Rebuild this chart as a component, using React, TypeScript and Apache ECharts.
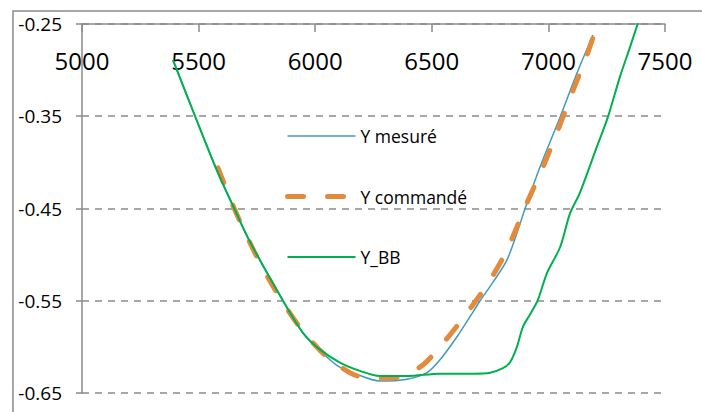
import React, { useEffect, useRef } from "react";
import * as echarts from "echarts";

const xTicks = [5000, 5500, 6000, 6500, 7000, 7500];
const yTicks = [-0.65, -0.55, -0.45, -0.35, -0.25];

const mesureX = [5390, 5485, 5583, 5652, 5716, 5862, 5948, 6021, 6093, 6171, 6278, 6394, 6479, 6535, 6608, 6677, 6707, 6762, 6822, 6870, 6900, 6964, 7050, 7123, 7191];
const mesureY = [-0.289, -0.35, -0.4115, -0.4495, -0.484, -0.55, -0.585, -0.604, -0.62, -0.629, -0.637, -0.635, -0.628, -0.614, -0.589, -0.562, -0.55, -0.53, -0.506, -0.473, -0.45, -0.405, -0.351, -0.303, -0.262];

const commandeX = [5583, 5652, 5750, 5828, 5926, 6042, 6149, 6226, 6321, 6449, 6548, 6651, 6750, 6822, 6908, 6977, 7041, 7101, 7165, 7191];
const commandeY = [-0.406, -0.4495, -0.5026, -0.538, -0.576, -0.609, -0.628, -0.634, -0.634, -0.622, -0.596, -0.563, -0.5275, -0.495, -0.444, -0.405, -0.365, -0.325, -0.284, -0.265];

const bbX = [5390, 5485, 5583, 5652, 5716, 5862, 5948, 6021, 6106, 6192, 6278, 6394, 6535, 6677, 6750, 6805, 6835, 6865, 6891, 6921, 6955, 6994, 7050, 7093, 7135, 7208, 7255, 7307, 7350, 7384];
const bbY = [-0.289, -0.35, -0.4115, -0.4495, -0.484, -0.55, -0.585, -0.603, -0.617, -0.626, -0.6316, -0.6316, -0.629, -0.629, -0.628, -0.623, -0.617, -0.6, -0.578, -0.565, -0.549, -0.52, -0.492, -0.455, -0.433, -0.383, -0.351, -0.307, -0.275, -0.249];

const seriesNames = ["Y mesuré", "Y commandé", "Y_BB"];

const zip = (xs: number[], ys: number[]) => xs.map((x, i) => [x, ys[i]]);

const FONT = "Open Sans";
const GRAY = "#8a8a8a";

export default function App() {
  const ref = useRef<HTMLDivElement>(null);
  useEffect(() => {
    if (!ref.current) return;
    const chart = echarts.init(ref.current, null, { renderer: "svg" });
    chart.setOption({
      animation: false,
      backgroundColor: "#ffffff",
      textStyle: { fontFamily: FONT },
      grid: { left: 82, top: 24, right: 37, bottom: 19, containLabel: false },
      graphic: [
        {
          type: "rect",
          shape: { x: 13, y: 11, width: 720, height: 420 },
          style: { fill: "none", stroke: GRAY, lineWidth: 1.5 },
          z: -1,
        },
      ],
      legend: {
        orient: "vertical",
        left: 280,
        top: 121,
        itemWidth: 68,
        itemHeight: 20,
        itemGap: 40.5,
        data: seriesNames,
        itemStyle: { opacity: 0 },
        lineStyle: { width: "inherit", type: "inherit", cap: "inherit" },
        textStyle: { fontFamily: FONT, fontSize: 17.5, color: "#000", lineHeight: 20 },
      },
      xAxis: {
        type: "value",
        position: "top",
        min: xTicks[0],
        max: xTicks[xTicks.length - 1],
        interval: 500,
        axisLine: { show: true, lineStyle: { color: GRAY, width: 1.5 } },
        axisTick: { show: true, inside: true, length: 8, lineStyle: { color: GRAY, width: 1.5 } },
        axisLabel: {
          inside: true,
          margin: 24,
          fontSize: 24,
          color: "#000",
          fontFamily: FONT,
          formatter: (v: number) => (xTicks.includes(v) ? String(v) : ""),
        },
        splitLine: { show: false },
      },
      yAxis: {
        type: "value",
        min: yTicks[0],
        max: yTicks[yTicks.length - 1],
        interval: 0.1,
        axisLine: { show: true, lineStyle: { color: GRAY, width: 1.5 } },
        axisTick: { show: true, length: 6, lineStyle: { color: GRAY, width: 1.5 } },
        axisLabel: {
          margin: 20,
          fontSize: 19,
          color: "#000",
          fontFamily: FONT,
          formatter: (v: number) => v.toFixed(2),
        },
        splitLine: { show: true, lineStyle: { color: GRAY, width: 1.5, type: [7, 6] } },
      },
      series: [
        {
          name: seriesNames[0],
          type: "line",
          data: zip(mesureX, mesureY),
          symbol: "none",
          smooth: 0.3,
          lineStyle: { color: "#4299B9", width: 1.5 },
          itemStyle: { color: "#4299B9" },
          z: 2,
        },
        {
          name: seriesNames[1],
          type: "line",
          data: zip(commandeX, commandeY),
          symbol: "none",
          smooth: 0.3,
          lineStyle: { color: "#E38A3C", width: 5, type: [16, 24], cap: "round" },
          itemStyle: { color: "#E38A3C" },
          z: 3,
        },
        {
          name: seriesNames[2],
          type: "line",
          data: zip(bbX, bbY),
          symbol: "none",
          smooth: 0.3,
          lineStyle: { color: "#00B050", width: 2 },
          itemStyle: { color: "#00B050" },
          z: 4,
        },
      ],
    });
    return () => chart.dispose();
  }, []);
  return <div ref={ref} style={{ width: 702, height: 412, position: "absolute", left: 0, top: 0 }} />;
}
